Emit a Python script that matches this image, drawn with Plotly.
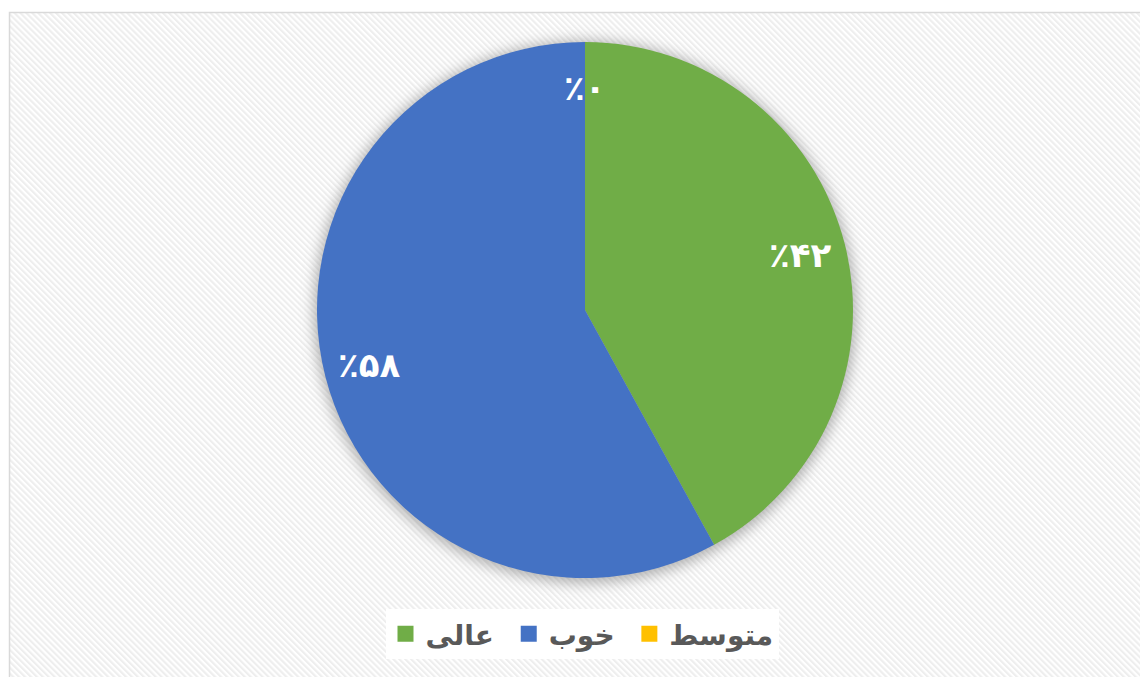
import base64
import math
import plotly.graph_objects as go

# ---- data ----
categories = ["عالی", "خوب", "متوسط"]
percent_values = [42, 58, 0]
slice_colors = ["#70AD47", "#4472C4", "#FFC000"]

FONT = "DejaVu Sans"
W, H = 1148, 677

PERSIAN_DIGITS = str.maketrans("0123456789", "۰۱۲۳۴۵۶۷۸۹")


def fa_percent(v):
    return "٪" + str(v).translate(PERSIAN_DIGITS)


# pie geometry (figure pixels; page body adds an 8px offset)
cx, cy, R = 577, 302, 268
dom_x = [(cx - R) / W, (cx + R) / W]
dom_y = [(H - cy - R) / H, (H - cy + R) / H]

# ---- background: hatched chart area with border + pie shadow ----
svg = f'''<svg xmlns="http://www.w3.org/2000/svg" width="{W}" height="{H}" viewBox="0 0 {W} {H}">
<defs>
<pattern id="p" patternUnits="userSpaceOnUse" width="4.2" height="4.2" patternTransform="rotate(-45)">
<rect width="4.2" height="4.2" fill="#ffffff"/>
<rect width="2.1" height="4.2" fill="#eeeeee"/>
</pattern>
<filter id="b" x="-20%" y="-20%" width="140%" height="140%"><feGaussianBlur stdDeviation="7"/></filter>
</defs>
<rect width="{W}" height="{H}" fill="#ffffff"/>
<rect x="1.5" y="4.5" width="{W}" height="{H}" fill="url(#p)" stroke="#d9d9d9" stroke-width="1.5"/>
<circle cx="{cx}" cy="{cy + 2}" r="{R + 3}" fill="#7f7f7f" fill-opacity="0.6" filter="url(#b)"/>
</svg>'''
bg_uri = "data:image/svg+xml;base64," + base64.b64encode(svg.encode("utf-8")).decode()

fig = go.Figure()

fig.add_trace(go.Pie(
    labels=categories,
    values=percent_values,
    marker=dict(colors=slice_colors, line=dict(width=0)),
    sort=False,
    direction="clockwise",
    rotation=0,
    textinfo="none",
    hoverinfo="label+percent",
    showlegend=False,
    domain=dict(x=dom_x, y=dom_y),
))

# legend entries (larger square swatches); a trailing no-break space widens the gap between entries
for i, (name, col) in enumerate(zip(categories, slice_colors)):
    pad = "\u00a0" if i < len(categories) - 1 else ""
    fig.add_trace(go.Scatter(
        x=[None], y=[None], mode="markers", name=name + pad,
        marker=dict(symbol="square", size=16, color=col),
        showlegend=True,
    ))

# percentage labels placed along each slice's bisector
total = sum(percent_values)
cum = 0.0
annotations = []
for v in percent_values:
    mid = (cum + v / 2) / total * 2 * math.pi
    cum += v
    r = 0.83 * R
    px = cx + r * math.sin(mid)
    py = cy - r * math.cos(mid)
    annotations.append(dict(
        x=px / W, y=1 - py / H, xref="paper", yref="paper",
        text=fa_percent(v), showarrow=False,
        font=dict(family=FONT, size=34, color="#ffffff", weight="bold"),
        xanchor="center", yanchor="middle",
    ))

fig.update_layout(
    width=W, height=H,
    margin=dict(l=0, r=0, t=0, b=0),
    paper_bgcolor="#ffffff",
    plot_bgcolor="rgba(0,0,0,0)",
    xaxis=dict(visible=False),
    yaxis=dict(visible=False),
    images=[dict(source=bg_uri, xref="paper", yref="paper", x=0, y=1,
                 sizex=1, sizey=1, sizing="stretch", layer="below",
                 xanchor="left", yanchor="top")],
    annotations=annotations,
    showlegend=True,
    legend=dict(
        orientation="h", x=0.5, xanchor="center", y=(H - 601) / H, yanchor="top",
        bgcolor="#ffffff", valign="top",
        font=dict(family=FONT, size=28, color="#595959", weight="bold"),
        itemclick=False, itemdoubleclick=False,
    ),
)

fig.write_html("out.html")
